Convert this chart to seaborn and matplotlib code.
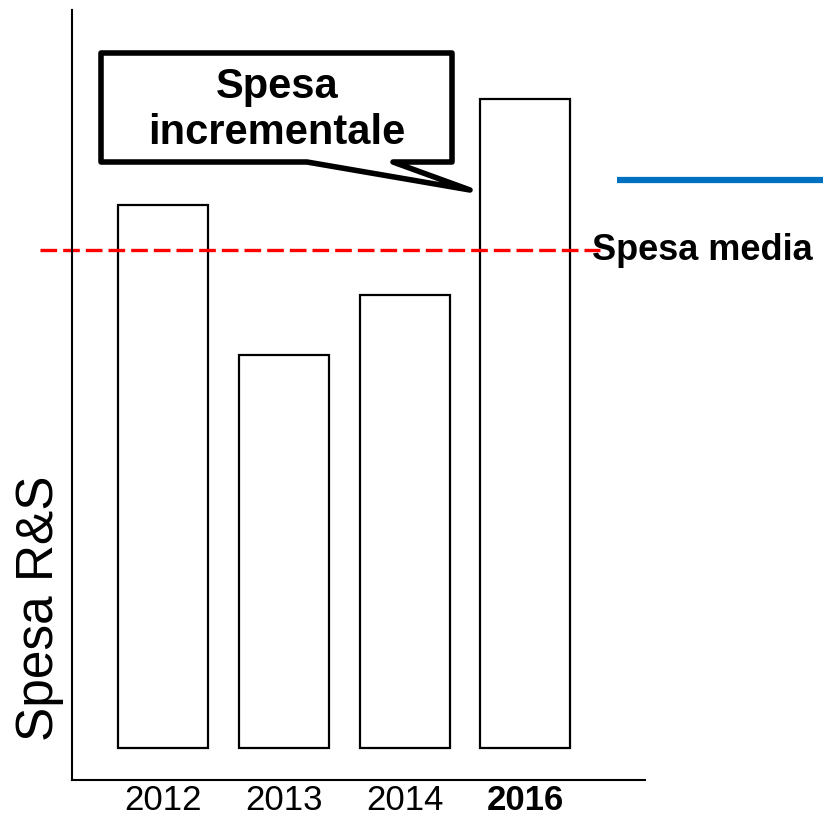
import matplotlib
matplotlib.use("Agg")
import matplotlib.pyplot as plt
import seaborn as sns
import pandas as pd
from matplotlib.patches import Polygon

# dati
anni = ["2012", "2013", "2014", "2016"]
spesa = [54.3, 39.3, 45.3, 64.9]
spesa_media = 49.8
linea_blu = 56.8

sns.set_style("white")
plt.rcParams["font.family"] = ["Liberation Sans", "DejaVu Sans"]
plt.rcParams["text.color"] = "black"

W, H = 823, 821
fig = plt.figure(figsize=(W / 100, H / 100), dpi=100)
ax = fig.add_axes([72 / W, (H - 780) / H, (645 - 72) / W, (780 - 10) / H])

df = pd.DataFrame({"anno": anni, "spesa": spesa})
sns.barplot(data=df, x="anno", y="spesa", color="white", edgecolor="black",
            linewidth=1.6, width=0.745, saturation=1, ax=ax)

ax.set_xlim(-0.753, 3.99)
ax.set_ylim(-3.2, 73.8)

# linea spesa media
ax.axhline(spesa_media, xmin=(40 - 72) / 573, xmax=(600 - 72) / 573,
           color="red", linestyle=(0, (5, 1.8)), linewidth=2.4, clip_on=False)
ax.text(3.55, spesa_media, "Spesa media", fontsize=26, fontweight="bold",
        color="black", va="center", ha="left", clip_on=False)

# linea blu a destra
ax.axhline(linea_blu, xmin=(617 - 72) / 573, xmax=(823 - 72) / 573,
           color="#0070C0", linewidth=4.5, solid_capstyle="butt", clip_on=False)

sns.despine(ax=ax)
for s in ["left", "bottom"]:
    ax.spines[s].set_linewidth(1.5)
    ax.spines[s].set_color("black")

ax.set_yticks([])
ax.tick_params(axis="x", length=0, pad=3, labelsize=25, colors="black")
ax.set_xlabel("")
ax.get_xticklabels()[-1].set_fontweight("bold")

ax.set_ylabel("Spesa R&S", fontsize=37, va="center", color="black")
ax.yaxis.set_label_coords(-0.056, 0.223)

# fumetto
def px(x, y):
    return (x / W, 1 - y / H)

pts = [px(101, 53), px(452, 53), px(452, 162), px(393, 162), px(470, 190),
       px(307, 162), px(101, 162)]
fumetto = Polygon(pts, closed=True, facecolor="white", edgecolor="black",
                  linewidth=4, joinstyle="round", transform=fig.transFigure)
fig.patches.append(fumetto)
fig.text(*px(277, 110), "Spesa\nincrementale", fontsize=30, fontweight="bold",
         color="black", ha="center", va="center", linespacing=1.2)

fig.savefig("out.png", dpi=100)
